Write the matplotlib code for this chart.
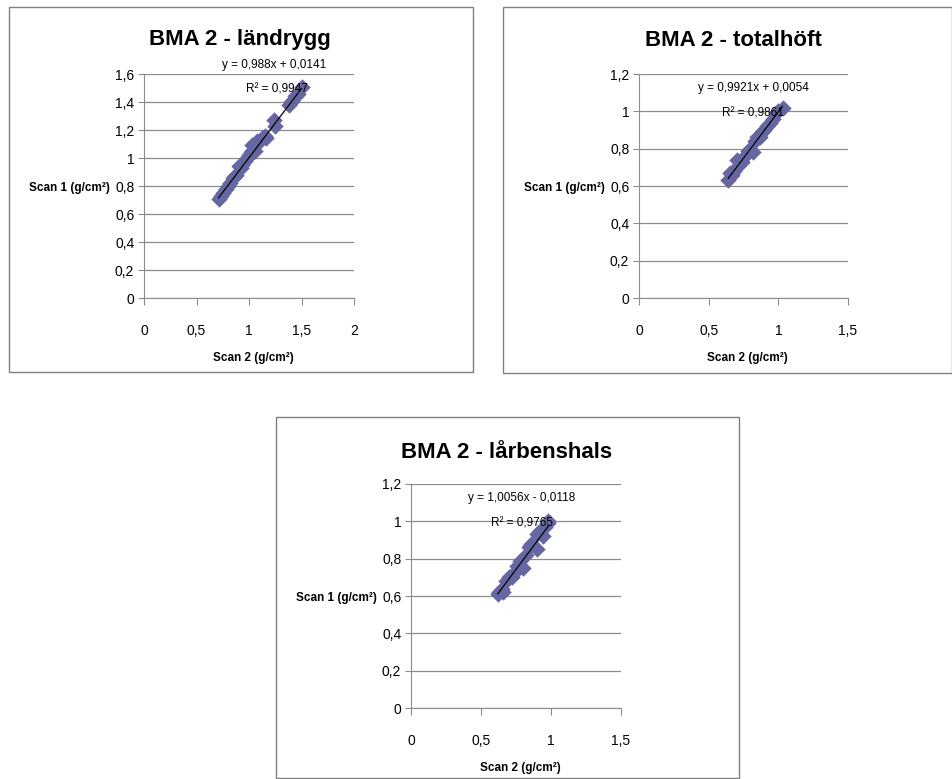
import matplotlib
matplotlib.use("Agg")
import matplotlib.pyplot as plt
from matplotlib.patches import Rectangle

plt.rcParams["font.family"] = ["Liberation Sans", "DejaVu Sans"]

W, H = 953, 779

# data
titles = ["BMA 2 - ländrygg", "BMA 2 - totalhöft", "BMA 2 - lårbenshals"]
equations = ["y = 0,988x + 0,0141", "y = 0,9921x + 0,0054", "y = 1,0056x - 0,0118"]
r2_texts = ["R² = 0,9947", "R² = 0,9861", "R² = 0,9765"]
slopes = [0.988, 0.9921, 1.0056]
intercepts = [0.0141, 0.0054, -0.0118]

landrygg_x = [0.71, 0.73, 0.75, 0.78, 0.80, 0.82, 0.85, 0.87, 0.88, 0.90, 0.92, 0.93,
              0.96, 0.98, 1.00, 1.02, 1.03, 1.04, 1.06, 1.08, 1.10, 1.12, 1.15, 1.16,
              1.24, 1.25, 1.38, 1.40, 1.41, 1.44, 1.47, 1.50]
landrygg_y = [0.71, 0.73, 0.75, 0.78, 0.80, 0.82, 0.86, 0.87, 0.88, 0.94, 0.93, 0.95,
              0.98, 1.00, 1.02, 1.04, 1.09, 1.06, 1.05, 1.12, 1.12, 1.14, 1.16, 1.14,
              1.27, 1.23, 1.38, 1.40, 1.41, 1.44, 1.46, 1.51]

totalhoft_x = [0.64, 0.65, 0.67, 0.68, 0.70, 0.72, 0.74, 0.76, 0.78, 0.80, 0.82,
               0.83, 0.85, 0.87, 0.88, 0.90, 0.92, 0.94, 0.96, 0.98, 1.00, 1.03]
totalhoft_y = [0.63, 0.67, 0.66, 0.68, 0.74, 0.71, 0.73, 0.76, 0.79, 0.80, 0.78,
               0.84, 0.86, 0.86, 0.89, 0.90, 0.92, 0.94, 0.96, 0.99, 1.00, 1.02]

larbenshals_x = [0.62, 0.63, 0.65, 0.66, 0.68, 0.70, 0.72, 0.74, 0.76, 0.78, 0.80,
                 0.82, 0.84, 0.86, 0.90, 0.90, 0.92, 0.94, 0.96, 0.98, 0.98]
larbenshals_y = [0.61, 0.62, 0.64, 0.62, 0.68, 0.70, 0.70, 0.73, 0.76, 0.79, 0.75,
                 0.82, 0.86, 0.88, 0.85, 0.93, 0.95, 0.92, 0.97, 0.99, 1.00]

xs = [landrygg_x, totalhoft_x, larbenshals_x]
ys = [landrygg_y, totalhoft_y, larbenshals_y]

x_ticks = [[0, 0.5, 1, 1.5, 2], [0, 0.5, 1, 1.5], [0, 0.5, 1, 1.5]]
y_ticks = [[0, 0.2, 0.4, 0.6, 0.8, 1, 1.2, 1.4, 1.6],
           [0, 0.2, 0.4, 0.6, 0.8, 1, 1.2],
           [0, 0.2, 0.4, 0.6, 0.8, 1, 1.2]]

# layout in pixels: chart box, plot area, title, equation and R2 text centres
boxes = [(9, 7, 473, 372), (503, 7, 952, 373), (276, 417, 739, 778)]
areas = [(144, 74, 354, 298), (639, 74, 848, 298), (411, 484, 621, 708)]
title_pos = [(240, 40), (733, 40), (507, 452)]
eq_pos = [(274, 65), (753, 88), (522, 498)]
r2_pos = [(277, 90), (753, 113), (522, 523)]

MARKER = "#6666a3"
GRID = "#8c8c8c"


def fx(x):
    return x / W


def fy(y):
    return 1 - y / H


def fmt(v):
    return ("%g" % v).replace(".", ",")


fig = plt.figure(figsize=(W / 100, H / 100), dpi=100)

for i in range(3):
    x0, y0, x1, y1 = boxes[i]
    fig.patches.append(Rectangle((fx(x0), fy(y1)), fx(x1 - x0), (y1 - y0) / H,
                                 transform=fig.transFigure, fill=False,
                                 edgecolor="#808080", linewidth=1.0))

    l, t, r, b = areas[i]
    ax = fig.add_axes([fx(l), fy(b), fx(r - l), (b - t) / H])
    ax.scatter(xs[i], ys[i], marker="D", s=70, color=MARKER, zorder=3, linewidths=0)
    lx = [min(xs[i]), max(xs[i])]
    ly = [slopes[i] * v + intercepts[i] for v in lx]
    ax.plot(lx, ly, color="black", linewidth=0.9, zorder=4)

    ax.set_xlim(x_ticks[i][0], x_ticks[i][-1])
    ax.set_ylim(y_ticks[i][0], y_ticks[i][-1])
    ax.set_xticks(x_ticks[i])
    ax.set_yticks(y_ticks[i])
    ax.set_xticklabels([fmt(v) for v in x_ticks[i]])
    ax.set_yticklabels([fmt(v) for v in y_ticks[i]])
    ax.tick_params(axis="x", length=5, color=GRID, pad=14, labelsize=10)
    ax.tick_params(axis="y", length=4, color=GRID, pad=3, labelsize=10)
    ax.yaxis.grid(True, color=GRID, linewidth=0.9)
    ax.set_axisbelow(True)
    for side in ["top", "right"]:
        ax.spines[side].set_visible(False)
    for side in ["left", "bottom"]:
        ax.spines[side].set_color(GRID)

    tx, ty = title_pos[i]
    fig.text(fx(tx), fy(ty), titles[i], ha="center", va="center",
             fontsize=16, fontweight="bold")
    ex, ey = eq_pos[i]
    fig.text(fx(ex), fy(ey), equations[i], ha="center", va="center", fontsize=8.5)
    rx, ry = r2_pos[i]
    fig.text(fx(rx), fy(ry), r2_texts[i], ha="center", va="center", fontsize=8.5)

    # axis titles
    fig.text(fx(l - 34), fy((t + b) / 2 + 2), "Scan 1 (g/cm²)", ha="right",
             va="center", fontsize=8.5, fontweight="bold")
    fig.text(fx((l + r) / 2 + 4), fy(b + 60), "Scan 2 (g/cm²)", ha="center",
             va="center", fontsize=8.5, fontweight="bold")

fig.savefig("out.png", dpi=100)
